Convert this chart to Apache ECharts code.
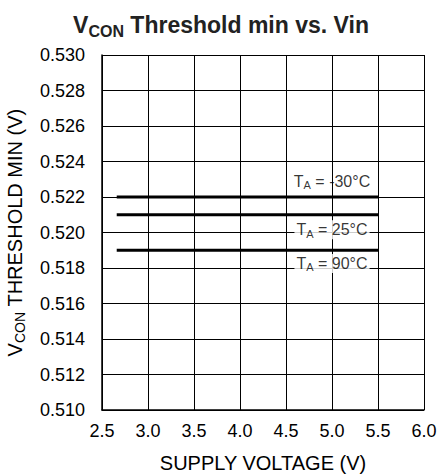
<!DOCTYPE html>
<html><head><meta charset="utf-8">
<script src="https://cdn.jsdelivr.net/npm/echarts@6/dist/echarts.min.js"></script>
<style>html,body{margin:0;padding:0;background:#fff}#c{width:442px;height:476px}</style>
</head><body><div id="c"></div>
<script>
const xTicks = [2.5, 3.0, 3.5, 4.0, 4.5, 5.0, 5.5, 6.0];
const yTicks = [0.510, 0.512, 0.514, 0.516, 0.518, 0.520, 0.522, 0.524, 0.526, 0.528, 0.530];
const vinRange = [2.66, 5.5];
const seriesNames = ['-30°C', '25°C', '90°C'];
const thresholds = [0.522, 0.521, 0.519];
const labelPos = [[5.0, 0.5229], [5.0, 0.52016], [5.0, 0.51826]];

const font = 'Liberation Sans, Arial, sans-serif';
const chart = echarts.init(document.getElementById('c'), null, {renderer: 'svg'});
const series = [];
seriesNames.forEach((n, i) => {
  series.push({
    type: 'line', name: n, symbol: 'none', silent: true, z: 3,
    data: vinRange.map(v => [v, thresholds[i]]),
    lineStyle: {color: '#000', width: 3}
  });
  series.push({
    type: 'scatter', symbolSize: 0, silent: true, z: 2,
    data: [labelPos[i]],
    label: {
      show: true, position: 'inside',
      backgroundColor: i === 0 ? 'transparent' : '#fff',
      padding: [0, 2, 0, 2],
      formatter: '{t|T}{s|A}{t| = ' + n + '}',
      rich: {
        t: {fontFamily: font, fontSize: 16, color: '#000'},
        s: {fontFamily: font, fontSize: 11, color: '#000', verticalAlign: 'bottom', padding: [8, 0, 0, 0]}
      }
    }
  });
});
chart.setOption({
  animation: false,
  title: {
    text: '{a|V}{b|CON}{a| Threshold min vs. Vin}',
    left: 'center', top: 6,
    textStyle: {
      rich: {
        a: {fontFamily: font, fontSize: 23, fontWeight: 'bold', color: '#222'},
        b: {fontFamily: font, fontSize: 16, fontWeight: 'bold', color: '#222', padding: [12, 0, 0, 0]}
      }
    }
  },
  grid: {left: 102, right: 18, top: 55, bottom: 66, containLabel: false, outerBoundsMode: 'none'},
  xAxis: {
    type: 'value', min: xTicks[0], max: xTicks[xTicks.length - 1], interval: 0.5,
    name: 'SUPPLY VOLTAGE (V)', nameLocation: 'middle', nameGap: 43,
    nameTextStyle: {fontFamily: font, fontSize: 20, color: '#000'},
    axisLine: {show: true, lineStyle: {color: '#000', width: 1.5}},
    axisTick: {show: false},
    splitLine: {show: true, lineStyle: {color: '#000', width: 1}},
    axisLabel: {fontFamily: font, fontSize: 18, color: '#000', margin: 12,
      formatter: v => v.toFixed(1)}
  },
  yAxis: {
    type: 'value', min: yTicks[0], max: yTicks[yTicks.length - 1], interval: 0.002,
    name: '{a|V}{b|CON}{a| THRESHOLD MIN (V)}', nameLocation: 'middle', nameGap: 75, nameRotate: 90,
    nameTextStyle: {
      rich: {
        a: {fontFamily: font, fontSize: 20, color: '#000'},
        b: {fontFamily: font, fontSize: 14, color: '#000', padding: [10, 0, 0, 0]}
      }
    },
    axisLine: {show: true, lineStyle: {color: '#000', width: 1.5}},
    axisTick: {show: false},
    splitLine: {show: true, lineStyle: {color: '#000', width: 1}},
    axisLabel: {fontFamily: font, fontSize: 18, color: '#000', margin: 17,
      formatter: v => v.toFixed(3)}
  },
  series: series
});
</script></body></html>
